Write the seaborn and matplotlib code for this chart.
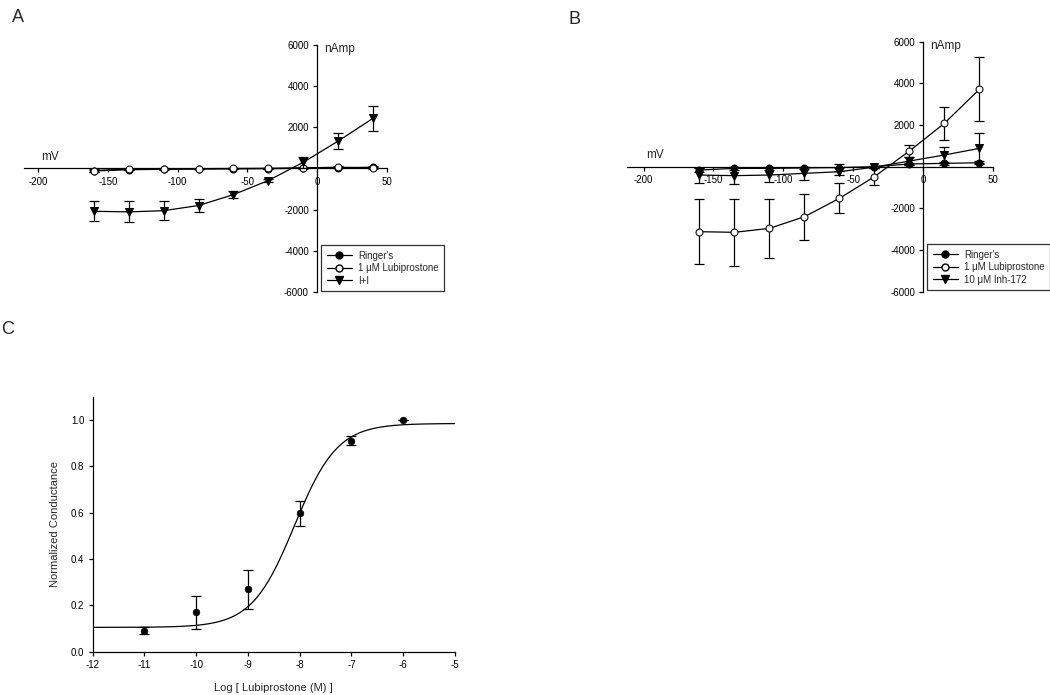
import numpy as np
import pandas as pd
import matplotlib
matplotlib.use("Agg")
import matplotlib.pyplot as plt
import seaborn as sns
from matplotlib.lines import Line2D

# ------------------------------------------------------------------ #
# Dados
# ------------------------------------------------------------------ #
voltagem = [-160, -135, -110, -85, -60, -35, -10, 15, 40]

# Painel A
a_ringer = [-120, -60, -40, -30, -20, -10, 10, 40, 60]
a_ringer_err = [40, 30, 30, 20, 20, 20, 30, 40, 50]
a_lubi = [-100, -30, -20, -10, 0, 10, 30, 60, 20]
a_lubi_err = [50, 30, 30, 20, 20, 20, 30, 40, 40]
a_ii = [-2080, -2110, -2050, -1800, -1270, -585, 300, 1330, 2440]
a_ii_err = [490, 510, 475, 310, 180, 80, 270, 390, 610]

# Painel B
b_ringer = [-160, -80, -80, -60, -40, 0, 130, 160, 190]
b_ringer_err = [80, 60, 60, 60, 150, 50, 60, 60, 60]
b_lubi = [-3120, -3150, -2960, -2400, -1520, -480, 750, 2080, 3710]
b_lubi_err = [1560, 1600, 1420, 1100, 720, 400, 300, 780, 1540]
b_inh = [-400, -430, -400, -320, -240, -20, 270, 560, 880]
b_inh_err = [360, 400, 350, 300, 170, 60, 200, 400, 720]

# Painel C
log_conc = [-11, -10, -9, -8, -7, -6]
condutancia = [0.091, 0.17, 0.269, 0.597, 0.91, 1.0]
condutancia_err = [0.015, 0.072, 0.085, 0.055, 0.02, 0.0]
# parâmetros do ajuste sigmoidal (curva desenhada no painel C)
fit_base, fit_topo, fit_logec50, fit_hill = 0.105, 0.985, -8.1, 1.05

sns.set_theme(style="ticks")
plt.rcParams["font.family"] = ["Liberation Sans", "DejaVu Sans"]
plt.rcParams["axes.unicode_minus"] = False
plt.rcParams["axes.linewidth"] = 0.9
plt.rcParams["xtick.major.width"] = 0.9
plt.rcParams["ytick.major.width"] = 0.9
plt.rcParams["xtick.major.size"] = 3
plt.rcParams["ytick.major.size"] = 3
plt.rcParams["xtick.color"] = "black"
plt.rcParams["ytick.color"] = "black"
plt.rcParams["axes.edgecolor"] = "black"

fig = plt.figure(figsize=(10.5, 6.95), dpi=100)

estilos = {
    "filled": dict(marker="o", mfc="black", mec="black", markersize=5),
    "open": dict(marker="o", mfc="white", mec="black", markersize=5),
    "tri": dict(marker="v", mfc="black", mec="black", markersize=6),
}


def serie(ax, y, err, estilo, z):
    df = pd.DataFrame({"mV": voltagem, "nA": y})
    ax.errorbar(voltagem, y, yerr=err, fmt="none", ecolor="black",
                elinewidth=0.9, capsize=3.5, capthick=0.9, zorder=z)
    sns.lineplot(data=df, x="mV", y="nA", ax=ax, color="black", lw=0.9,
                 zorder=z + 0.5, legend=False, **estilos[estilo])


def eixo_iv(rect, xmin, series, rotulos, leg_box):
    ax = fig.add_axes(rect)
    for y, err, est, z in series:
        serie(ax, y, err, est, z)
    ax.set_xlim(xmin, 50)
    ax.set_ylim(-6000, 6000)
    ax.spines["left"].set_position(("data", 0))
    ax.spines["bottom"].set_position(("data", 0))
    ax.spines["top"].set_visible(False)
    ax.spines["right"].set_visible(False)
    ax.set_xticks([-200, -150, -100, -50, 0, 50])
    ax.set_yticks([-6000, -4000, -2000, 2000, 4000, 6000])
    ax.tick_params(axis="both", labelsize=7, direction="out", pad=3)
    ax.set_xlabel("")
    ax.set_ylabel("")
    ax.text(-198, 250, "mV", fontsize=8.5, ha="left", va="bottom")
    ax.text(5, 5800, "nAmp", fontsize=8.5, ha="left", va="center")
    handles = [Line2D([], [], color="black", lw=0.9, **estilos[e])
               for e in ["filled", "open", "tri"]]
    leg = ax.legend(handles, rotulos, loc="upper left",
                    bbox_to_anchor=leg_box, bbox_transform=fig.transFigure,
                    fontsize=7, frameon=True, fancybox=False,
                    edgecolor="black", handlelength=2.6, borderpad=0.6,
                    labelspacing=0.25, handletextpad=0.6)
    leg.get_frame().set_linewidth(0.9)
    return ax


# Painel A
eixo_iv([0.0229, 0.5799, 0.3457, 0.3554], -210,
        [(a_ringer, a_ringer_err, "filled", 2),
         (a_lubi, a_lubi_err, "open", 3),
         (a_ii, a_ii_err, "tri", 4)],
        ["Ringer's", "1 \u03bcM Lubiprostone", "I+I"],
        (316 / 1050, 1 - 240 / 695))

# Painel B
eixo_iv([0.5969, 0.5803, 0.3491, 0.3597], -212,
        [(b_ringer, b_ringer_err, "filled", 2),
         (b_lubi, b_lubi_err, "open", 3),
         (b_inh, b_inh_err, "tri", 4)],
        ["Ringer's", "1 \u03bcM Lubiprostone", "10 \u03bcM Inh-172"],
        (922 / 1050, 1 - 239 / 695))

# Painel C
axc = fig.add_axes([0.0883, 0.0623, 0.3450, 0.3667])
curva_x = np.linspace(-12, -5, 300)
curva_y = fit_base + (fit_topo - fit_base) / (1 + 10 ** (fit_hill * (fit_logec50 - curva_x)))
sns.lineplot(x=curva_x, y=curva_y, ax=axc, color="black", lw=0.9)
axc.errorbar(log_conc, condutancia, yerr=condutancia_err, fmt="none",
             ecolor="black", elinewidth=0.9, capsize=3.5, capthick=0.9)
sns.scatterplot(x=log_conc, y=condutancia, ax=axc, color="black", s=24,
                edgecolor="black", zorder=5)
axc.set_xlim(-12, -5)
axc.set_ylim(0, 1.1)
axc.set_xticks(range(-12, -4))
axc.set_yticks([0.0, 0.2, 0.4, 0.6, 0.8, 1.0])
axc.set_yticklabels(["0.0", "0.2", "0.4", "0.6", "0.8", "1.0"])
axc.spines["top"].set_visible(False)
axc.spines["right"].set_visible(False)
axc.tick_params(axis="both", labelsize=7, direction="out", pad=3)
axc.set_xlabel("Log [ Lubiprostone (M) ]", fontsize=8, labelpad=9)
axc.set_ylabel("Normalized Conductance", fontsize=8, labelpad=8)

# Letras dos painéis
fig.text(18 / 1050, 1 - 17 / 695, "A", fontsize=13, ha="center", va="center")
fig.text(574 / 1050, 1 - 19 / 695, "B", fontsize=13, ha="center", va="center")
fig.text(8 / 1050, 1 - 330 / 695, "C", fontsize=13, ha="center", va="center")

fig.savefig("out.png", dpi=100)
